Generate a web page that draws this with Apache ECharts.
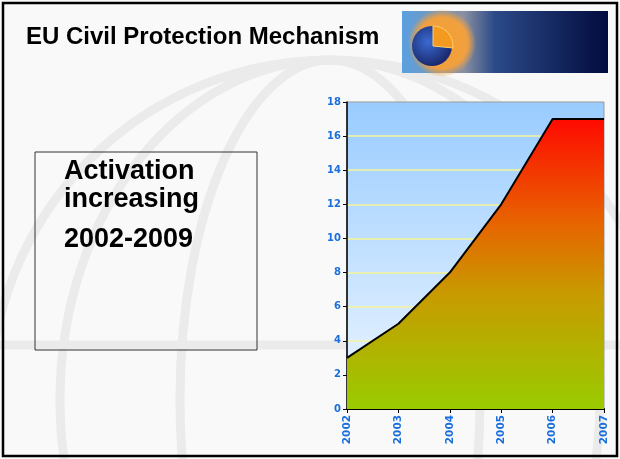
<!DOCTYPE html>
<html>
<head>
<meta charset="utf-8">
<script src="https://cdn.jsdelivr.net/npm/echarts@6/dist/echarts.min.js"></script>
<style>html,body{margin:0;padding:0;background:#fff}#c{width:620px;height:459px}</style>
</head>
<body>
<div id="c"></div>
<script>
// Data
const years = ['2002', '2003', '2004', '2005', '2006', '2007'];
const activations = [3, 5, 8, 12, 17, 17];
const yTicks = { min: 0, max: 18, interval: 2 };
const titleText = 'EU Civil Protection Mechanism';
const boxLines = ['Activation', 'increasing', '2002-2009'];

const chart = echarts.init(document.getElementById('c'), null, { renderer: 'canvas' });
const labelBlue = '#1a6fdc';
const wm = '#ebebeb';

const option = {
  animation: false,
  backgroundColor: '#f9f9f9',
  grid: {
    left: 347, right: 16, top: 102, bottom: 50,
    show: true,
    borderColor: '#9a9a9a', borderWidth: 1,
    backgroundColor: {
      type: 'linear', x: 0, y: 0, x2: 0, y2: 1,
      colorStops: [{ offset: 0, color: '#99ccff' }, { offset: 1, color: '#eef6ff' }]
    }
  },
  xAxis: {
    type: 'category', data: years, boundaryGap: false,
    axisLine: { lineStyle: { color: '#000', width: 2 } },
    axisTick: { show: true, length: 4, lineStyle: { color: '#000' } },
    axisLabel: { rotate: 90, margin: 6, color: labelBlue, fontFamily: 'DejaVu Sans', fontWeight: 'bold', fontSize: 10.5 },
    splitLine: { show: false }
  },
  yAxis: {
    type: 'value', min: yTicks.min, max: yTicks.max, interval: yTicks.interval,
    axisLine: { show: true, lineStyle: { color: '#000', width: 1.5 } },
    axisTick: { show: true, length: 4, lineStyle: { color: '#000' } },
    axisLabel: { margin: 6, color: labelBlue, fontFamily: 'DejaVu Sans', fontWeight: 'bold', fontSize: 10 },
    splitLine: { show: true, showMaxLine: false, showMinLine: false, lineStyle: { color: '#f4f49a', width: 1.5 } }
  },
  series: [{
    type: 'line', data: activations, symbol: 'none',
    lineStyle: { color: '#000', width: 2 },
    areaStyle: {
      opacity: 1,
      color: {
        type: 'linear', x: 0, y: 0, x2: 0, y2: 1,
        colorStops: [
          { offset: 0, color: '#ff0a00' },
          { offset: 0.35, color: '#e86200' },
          { offset: 0.6, color: '#c89a00' },
          { offset: 1, color: '#99cc00' }
        ]
      }
    },
    z: 3
  }],
  graphic: [
    // watermark globe arcs
    { type: 'circle', z: -10, silent: true, shape: { cx: 330, cy: 400, r: 340 }, style: { fill: null, stroke: wm, lineWidth: 9 } },
    { type: 'ellipse', z: -10, silent: true, shape: { cx: 330, cy: 400, rx: 150, ry: 340 }, style: { fill: null, stroke: wm, lineWidth: 9 } },
    { type: 'ellipse', z: -10, silent: true, shape: { cx: 330, cy: 400, rx: 270, ry: 340 }, style: { fill: null, stroke: wm, lineWidth: 9 } },
    { type: 'line', z: -10, silent: true, shape: { x1: 0, y1: 345, x2: 620, y2: 345 }, style: { stroke: wm, lineWidth: 9 } },
    // slide border
    { type: 'rect', z: 50, silent: true, shape: { x: 3, y: 3, width: 614, height: 453 }, style: { fill: null, stroke: '#000', lineWidth: 2.5 } },
    // title
    { type: 'text', z: 20, left: 26, top: 25, style: { text: titleText, fontFamily: 'Liberation Sans, Arial', fontWeight: 'bold', fontSize: 24, fill: '#000' } },
    // text box
    { type: 'rect', z: 20, shape: { x: 35, y: 152, width: 222, height: 198 }, style: { fill: null, stroke: '#333', lineWidth: 1 } },
    { type: 'text', z: 20, left: 64, top: 158, style: { text: boxLines[0], fontFamily: 'Liberation Sans, Arial', fontWeight: 'bold', fontSize: 27, fill: '#000' } },
    { type: 'text', z: 20, left: 64, top: 186, style: { text: boxLines[1], fontFamily: 'Liberation Sans, Arial', fontWeight: 'bold', fontSize: 27, fill: '#000' } },
    { type: 'text', z: 20, left: 64, top: 226, style: { text: boxLines[2], fontFamily: 'Liberation Sans, Arial', fontWeight: 'bold', fontSize: 27, fill: '#000' } },
    // logo image approximation
    { type: 'rect', z: 20, shape: { x: 402, y: 11, width: 206, height: 62 }, style: { fill: {
        type: 'linear', x: 0, y: 0, x2: 1, y2: 0,
        colorStops: [{ offset: 0, color: '#5aa0e0' }, { offset: 0.3, color: '#8a90a0' }, { offset: 0.45, color: '#2b4a88' }, { offset: 1, color: '#020b3e' }]
      } } },
    { type: 'circle', z: 21, shape: { cx: 442, cy: 43, r: 34 }, style: { fill: {
        type: 'radial', x: 0.5, y: 0.5, r: 0.5,
        colorStops: [{ offset: 0, color: '#f5a030' }, { offset: 0.75, color: '#f0a040' }, { offset: 1, color: 'rgba(240,160,64,0)' }]
      } } },
    { type: 'circle', z: 22, shape: { cx: 432, cy: 46, r: 20 }, style: { fill: {
        type: 'radial', x: 0.4, y: 0.4, r: 0.6,
        colorStops: [{ offset: 0, color: '#3a6ad0' }, { offset: 1, color: '#1a2a70' }]
      } } },
    { type: 'sector', z: 23, shape: { cx: 433, cy: 46, r: 20, r0: 0, startAngle: -Math.PI / 2, endAngle: 0.1 }, style: { fill: '#f49a20', stroke: '#ffd070', lineWidth: 1 } }
  ]
};
chart.setOption(option);
</script>
</body>
</html>
